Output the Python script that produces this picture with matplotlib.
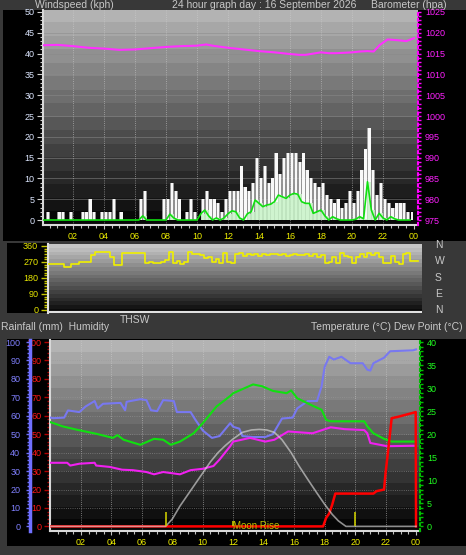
import numpy as np
import matplotlib
matplotlib.use('Agg')
import matplotlib.pyplot as plt
from matplotlib.patches import Rectangle

# wind, quarter-hour readings (kph)
wind_gust = [0, 2, 0, 0, 2, 2, 0, 2, 0, 0, 2, 2, 5, 2, 0, 2, 2, 2, 5, 0, 2, 0, 0, 0,
             0, 5, 7, 0, 0, 0, 0, 5, 5, 9, 7, 5, 0, 2, 5, 2, 0, 5, 7, 5, 5, 4, 2, 5,
             7, 7, 7, 13, 8, 7, 9, 15, 10, 13, 9, 10, 16, 11, 15, 16, 16, 16, 14, 16,
             12, 10, 9, 8, 9, 6, 5, 4, 5, 3, 4, 7, 4, 7, 12, 17, 22, 12, 6, 9,
             5, 4, 3, 4, 4, 4, 2, 2]
wind_avg = [0, 0, 0, 0, 0, 0, 0, 0, 0, 0, 0, 0, 0, 0, 0, 0, 0, 0, 0, 0, 0, 0, 0, 0,
            0, 0, 1, 0, 0, 0, 0, 0, 0, 1.4, 0.5, 0, 0, 0, 0, 0, 0, 1.5, 2.4, 1, 0, 0.5, 0, 0.5,
            1.5, 2.2, 2, 0.5, 0, 1.5, 2, 4.8, 4, 3.2, 3.6, 3.8, 4.4, 6, 5.6, 5.2, 6, 6.4, 6.2, 4.4,
            4, 4, 1.6, 2, 2.4, 1, 0, 0.8, 0.3, 0, 0, 0, 0, 0.2, 0.8, 0.3, 9.2, 2.4, 0, 1.6,
            0.5, 0, 0.8, 0.3, 0, 0, 0, 0]
# wind direction, quarter-hour readings (degrees)
wind_dir = [257, 257, 257, 257, 244, 244, 257, 257, 270, 270, 270, 309, 328, 328, 328, 328,
            300, 253, 253, 319, 322, 322, 322, 322, 322, 265, 268, 262, 265, 268, 281, 328,
            262, 275, 258, 270, 328, 312, 315, 310, 290, 300, 270, 285, 265, 320, 270, 262,
            312, 318, 305, 315, 310, 312, 305, 315, 308, 312, 315, 310, 312, 305, 310, 315,
            310, 308, 312, 306, 312, 300, 310, 263, 270, 300, 265, 320, 305, 300, 262, 300,
            315, 300, 320, 310, 318, 300, 265, 262, 305, 270, 260, 315, 318, 277, 277, 277]

baro_h = [0, 1, 2, 3, 4, 5, 6, 7, 8, 9, 10, 10.6, 11, 12, 13, 14, 15, 16, 16.6, 17, 17.5,
          18, 18.5, 19, 20, 20.5, 21, 21.4, 21.8, 22.3, 23, 23.5, 24]
baro = [1017.0, 1017.1, 1016.8, 1016.4, 1016.2, 1015.9, 1016.0, 1016.3, 1016.6, 1016.8,
        1016.9, 1017.2, 1016.9, 1016.4, 1016.0, 1015.6, 1015.3, 1014.9, 1014.7, 1014.7,
        1015.0, 1015.3, 1015.1, 1015.1, 1015.3, 1015.5, 1015.6, 1015.5, 1017.1, 1018.4,
        1018.2, 1018.0, 1018.7]

hum_h = [0, 0.2, 0.9, 1.15, 1.9, 2.3, 2.9, 3.1, 3.45, 4.6, 4.9, 5.0, 5.9, 6.3, 6.6, 7.0, 7.4,
         8.1, 8.3, 9.2, 9.5, 10.0, 10.6, 11.1, 11.8, 12.0, 12.4, 12.6, 13.3, 14.1, 14.6, 15.2,
         15.9, 16.2, 16.9, 17.5, 17.8, 18.0, 18.3, 18.6, 19.1, 19.7, 20.5, 20.8, 21.0, 21.2,
         21.9, 22.3, 23.8, 24]
hum = [59, 58.7, 59, 62.9, 62, 65, 68, 64, 66.5, 67, 63, 67.6, 69, 68.5, 63, 62.5, 68.5,
       68, 62, 62, 58, 52, 48, 49, 56, 54, 53, 49, 48.5, 48.5, 50, 58.5,
       59, 64, 68, 68, 76, 86.5, 92, 90.5, 92, 88.5, 88.5, 85, 84.5, 88.5,
       91.5, 95, 95.5, 96]

temp_h = [0, 0.2, 0.8, 1.7, 3.0, 4.1, 4.4, 4.8, 5.9, 6.8, 7.4, 7.9, 8.5, 9.4, 10.0, 10.9,
          11.8, 12.0, 13.3, 13.9, 14.6, 15.5, 15.8, 16.2, 17.2, 17.8, 18.1, 18.4, 20.6, 20.8,
          21.2, 21.9, 22.4, 24]
temp = [22.6, 22.4, 21.7, 21.0, 20.1, 19.2, 19.8, 18.8, 17.7, 19.0, 18.8, 17.7, 18.4, 20.2,
        22.4, 26.0, 28.3, 28.9, 30.8, 30.4, 29.4, 28.9, 29.5, 27.8, 26.2, 25.3, 23.1, 22.8,
        22.8, 21.7, 20.2, 19.0, 18.4, 18.4]

dew_h = [0, 1.1, 1.3, 1.9, 2.9, 3.0, 3.9, 4.7, 5.4, 6.3, 6.8, 7.4, 8.5, 9.2, 10.0, 10.7,
         11.1, 11.8, 12.0, 13.1, 14.1, 14.7, 15.6, 17.2, 18.4, 19.3, 20.6, 20.8, 21.0, 22.1, 24]
dew = [13.8, 13.8, 13.2, 13.6, 13.8, 13.2, 12.9, 12.3, 12.2, 11.8, 11.3, 11.8, 11.3, 12.2,
       12.5, 13.1, 14.5, 17.4, 18.4, 19.2, 18.4, 18.8, 20.6, 20.2, 21.5, 21.1, 20.9, 20.2,
       18.1, 17.4, 17.5]

rain_h = [0, 17.9, 18.1, 18.3, 18.5, 18.7, 21.2, 21.4, 21.9, 22.0, 22.2, 22.4, 22.8, 23.8, 23.98, 24]
rain = [0, 0, 4.7, 7.0, 11.9, 17.8, 17.8, 19.1, 20, 29, 43.5, 58.7, 59.4, 61.6, 62, 0]

solar_h = [0, 7.56, 8, 8.5, 9, 9.5, 10, 10.5, 11, 11.5, 12, 12.6, 13.2, 13.7, 14.2, 14.7,
           15.2, 15.8, 16.3, 16.9, 17.5, 18, 18.5, 18.9, 19.4, 24]
solar = [0, 0, 4, 11, 17, 23, 29, 35, 40, 44, 47.5, 51, 52.3, 52.6, 52.3, 51,
         47, 40, 33, 25.4, 18, 12, 6.5, 3, 0, 0]

sun_events = [7.56, 20.0]
moon_rise = 12.0

hour_ticks = [2, 4, 6, 8, 10, 12, 14, 16, 18, 20, 22, 24]
hour_labels = ['02', '04', '06', '08', '10', '12', '14', '16', '18', '20', '22', '00']

W, H = 466, 555
BG = '#383838'
TXT = '#c8c8c8'
FONT = 'Liberation Sans'

fig = plt.figure(figsize=(W / 100, H / 100), dpi=100, facecolor=BG)

# background layer in pixel coordinates (y down)
bg = fig.add_axes([0, 0, 1, 1])
bg.set_xlim(0, W)
bg.set_ylim(H, 0)
bg.axis('off')
bg.set_zorder(-10)


def box(x0, y0, x1, y1):
    return [x0 / W, 1 - y1 / H, (x1 - x0) / W, (y1 - y0) / H]


def black(x0, y0, x1, y1):
    bg.add_patch(Rectangle((x0, y0), x1 - x0, y1 - y0, color='black', lw=0))


def ftext(x, y, s, **kw):
    kw.setdefault('color', TXT)
    kw.setdefault('fontsize', 7.5)
    kw.setdefault('family', FONT)
    fig.text(x / W, 1 - y / H, s, va='center', **kw)


def shade(ax, xl, yl, top, bottom, bands=16):
    vals = np.linspace(top, bottom, bands)
    img = np.repeat(vals, 4)[:, None]
    ax.imshow(img, cmap='gray', vmin=0, vmax=1, extent=(xl[0], xl[1], yl[0], yl[1]),
              aspect='auto', zorder=0, interpolation='nearest')
    ax.set_xlim(xl)
    ax.set_ylim(yl)


def hour_axis(ax):
    ax.set_xticks(hour_ticks)
    ax.set_xticklabels(hour_labels)
    ax.set_xticks(np.arange(0.5, 24.1, 0.5), minor=True)
    ax.tick_params(axis='x', which='both', colors='#c0c0c0', labelcolor='#f0f000',
                   labelsize=6.5, length=3, width=0.8, pad=2)
    ax.tick_params(axis='x', which='minor', length=2)
    for lab in ax.get_xticklabels():
        lab.set_family(FONT)


black(3, 10, 466, 241)
black(7, 243, 48, 313)
black(7, 339, 466, 546)

ftext(35, 4.5, 'Windspeed (kph)')
ftext(172, 4.5, '24 hour graph day : 16 September 2026')
ftext(371, 4.5, 'Barometer (hpa)')

# ---- top panel: wind + barometer
ax1 = fig.add_axes(box(43, 10, 418, 225))
shade(ax1, (0.065, 24.26), (-1.2, 50.48), 0.70, 0.03)
for y in range(5, 50, 5):
    ax1.axhline(y, color='#8a8a8a', lw=0.6, alpha=0.6, zorder=1)
for x in hour_ticks[:-1]:
    ax1.axvline(x, color='#d0d0d0', lw=0.6, ls=':', alpha=0.7, zorder=1)

qh = np.arange(0, 24, 0.25)
ax1.fill_between(qh, wind_gust, step='post', color='#bcbcbc', alpha=0.75, lw=0, zorder=2)
ax1.bar(qh + 0.125, wind_gust, width=0.15, color='white', alpha=0.95, zorder=3)
ax1.fill_between(qh, wind_avg, step='post', color='#c8f4c8', alpha=0.85, lw=0, zorder=4)
ax1.plot(qh, wind_avg, color='#10e010', lw=1.2, zorder=5)

ax1.set_yticks(range(0, 51, 5))
ax1.set_yticks(range(0, 51), minor=True)
ax1.tick_params(axis='y', which='both', colors='#d0d0d0', labelcolor='#dce6ff',
                labelsize=6.5, length=4, width=0.8, pad=2)
ax1.tick_params(axis='y', which='minor', length=2)
hour_axis(ax1)
for lab in ax1.get_yticklabels():
    lab.set_family(FONT)
for s in ['top', 'right']:
    ax1.spines[s].set_visible(False)
for s in ['left', 'bottom']:
    ax1.spines[s].set_color('#d8d8d8')
    ax1.spines[s].set_linewidth(1.5)

ax1b = ax1.twinx()
ax1b.set_ylim(973.8, 1025.48)
ax1b.plot(baro_h, baro, color='#ff30ff', lw=1.5, zorder=6)
ax1b.set_yticks(range(975, 1026, 5))
ax1b.set_yticks(range(975, 1026), minor=True)
ax1b.tick_params(axis='y', which='both', colors='#ff00ff', labelcolor='#ff20ff',
                 labelsize=6.5, length=2, width=1, pad=3)
for lab in ax1b.get_yticklabels():
    lab.set_family(FONT)
for s in ['top', 'left', 'bottom']:
    ax1b.spines[s].set_visible(False)
ax1b.spines['right'].set_color('#ff00ff')
ax1b.spines['right'].set_linestyle(':')
ax1b.spines['right'].set_linewidth(1.5)

# ---- middle panel: wind direction
ax2 = fig.add_axes(box(48, 244, 422, 313))
shade(ax2, (0, 24), (-16.9, 371), 0.78, 0.04, bands=18)
ax2.axhline(-14, color='#e0e0e0', lw=1.5, zorder=1)
ax2.plot(qh, wind_dir, drawstyle='steps-post', color='#f0f000', lw=1.2, zorder=3)
ax2.set_yticks([0, 90, 180, 270, 360])
ax2.set_yticks(range(0, 361, 15), minor=True)
ax2.tick_params(axis='y', which='both', colors='#c8c800', labelcolor='#e8e800',
                labelsize=6.5, length=5, width=1, pad=2)
ax2.tick_params(axis='y', which='minor', length=3)
ax2.set_xticks([])
for lab in ax2.get_yticklabels():
    lab.set_family(FONT)
for s in ['top', 'right', 'bottom']:
    ax2.spines[s].set_visible(False)
ax2.spines['left'].set_color('#e0e0e0')
ax2.spines['left'].set_linewidth(1.5)

for y, s in zip([245, 261, 278, 294, 310], ['N', 'W', 'S', 'E', 'N']):
    ftext(435, y, s)

ftext(120, 320, 'THSW')
ftext(1, 327, 'Rainfall (mm)  Humidity')
ftext(463, 327, 'Temperature (\u00b0C) Dew Point (\u00b0C)', ha='right')

# ---- bottom panel: temperature, humidity, rain
ax3 = fig.add_axes(box(50, 340, 420, 531))
yl3 = (-2.5, 101.1)
shade(ax3, (-0.03, 24.26), yl3, 0.70, 0.02)
for y in range(10, 100, 10):
    ax3.axhline(y, color='#9a9a9a', lw=0.6, ls=':', alpha=0.7, zorder=1)
for x in hour_ticks[:-1]:
    ax3.axvline(x, color='#d0d0d0', lw=0.6, ls=':', alpha=0.7, zorder=1)
ax3.set_yticks(range(0, 101, 10))
ax3.set_yticks(range(0, 101, 2), minor=True)
ax3.tick_params(axis='y', which='both', colors='#b00000', labelcolor='#ff1818',
                labelsize=6.5, length=4, width=1, pad=2)
ax3.tick_params(axis='y', which='minor', length=2)
hour_axis(ax3)
for lab in ax3.get_yticklabels():
    lab.set_family(FONT)
for s in ['top', 'right']:
    ax3.spines[s].set_visible(False)
for s in ['left', 'bottom']:
    ax3.spines[s].set_color('#d8d8d8')
    ax3.spines[s].set_linewidth(1.5)

# humidity scale on its own blue spine
axh = fig.add_axes(box(30, 340, 31, 531))
axh.set_ylim(yl3)
axh.patch.set_visible(False)
axh.set_xticks([])
axh.set_yticks(range(0, 101, 10))
axh.set_yticks(range(0, 101, 2), minor=True)
axh.tick_params(axis='y', which='both', colors='#7070ff', labelcolor='#8080ff',
                labelsize=6.5, length=3, width=1, pad=4)
axh.tick_params(axis='y', which='minor', length=2)
for lab in axh.get_yticklabels():
    lab.set_family(FONT)
for s in ['top', 'right', 'bottom']:
    axh.spines[s].set_visible(False)
axh.spines['left'].set_color('#7070ff')
axh.spines['left'].set_linewidth(2.5)

ax3b = ax3.twinx()
ax3b.set_ylim(-1.0, 40.44)
ax3b.set_xlim(ax3.get_xlim())
left = ax3.transData
ax3b.plot(hum_h, hum, color='#7878f0', lw=1.5, transform=left)
ax3b.plot(temp_h, temp, color='#10e010', lw=1.5)
ax3b.plot(dew_h, dew, color='#f020f0', lw=1.5)
ax3b.plot(rain_h, rain, color='#ff0000', lw=1.8, transform=left)
ax3b.plot(solar_h, solar, color='#d8d8d8', lw=1.2, alpha=0.65, transform=left)
ax3b.vlines(sun_events, 0, 8, color='#c8c800', lw=1.2, transform=left)
ax3b.vlines([moon_rise], 0, 3, color='#c8c800', lw=1.2, transform=left)
ax3b.text(moon_rise, 0, 'Moon Rise', color='#c0c000', fontsize=7, family=FONT,
          ha='left', va='center', transform=left)
ax3b.set_yticks(range(0, 41, 5))
ax3b.set_yticks(range(0, 41), minor=True)
ax3b.tick_params(axis='y', which='both', colors='#00c000', labelcolor='#20ff20',
                 labelsize=6.5, length=2, width=1, pad=3)
for lab in ax3b.get_yticklabels():
    lab.set_family(FONT)
for s in ['top', 'left', 'bottom']:
    ax3b.spines[s].set_visible(False)
ax3b.spines['right'].set_color('#00c000')
ax3b.spines['right'].set_linestyle(':')
ax3b.spines['right'].set_linewidth(1.5)

fig.savefig('out.png', dpi=100, facecolor=BG)
